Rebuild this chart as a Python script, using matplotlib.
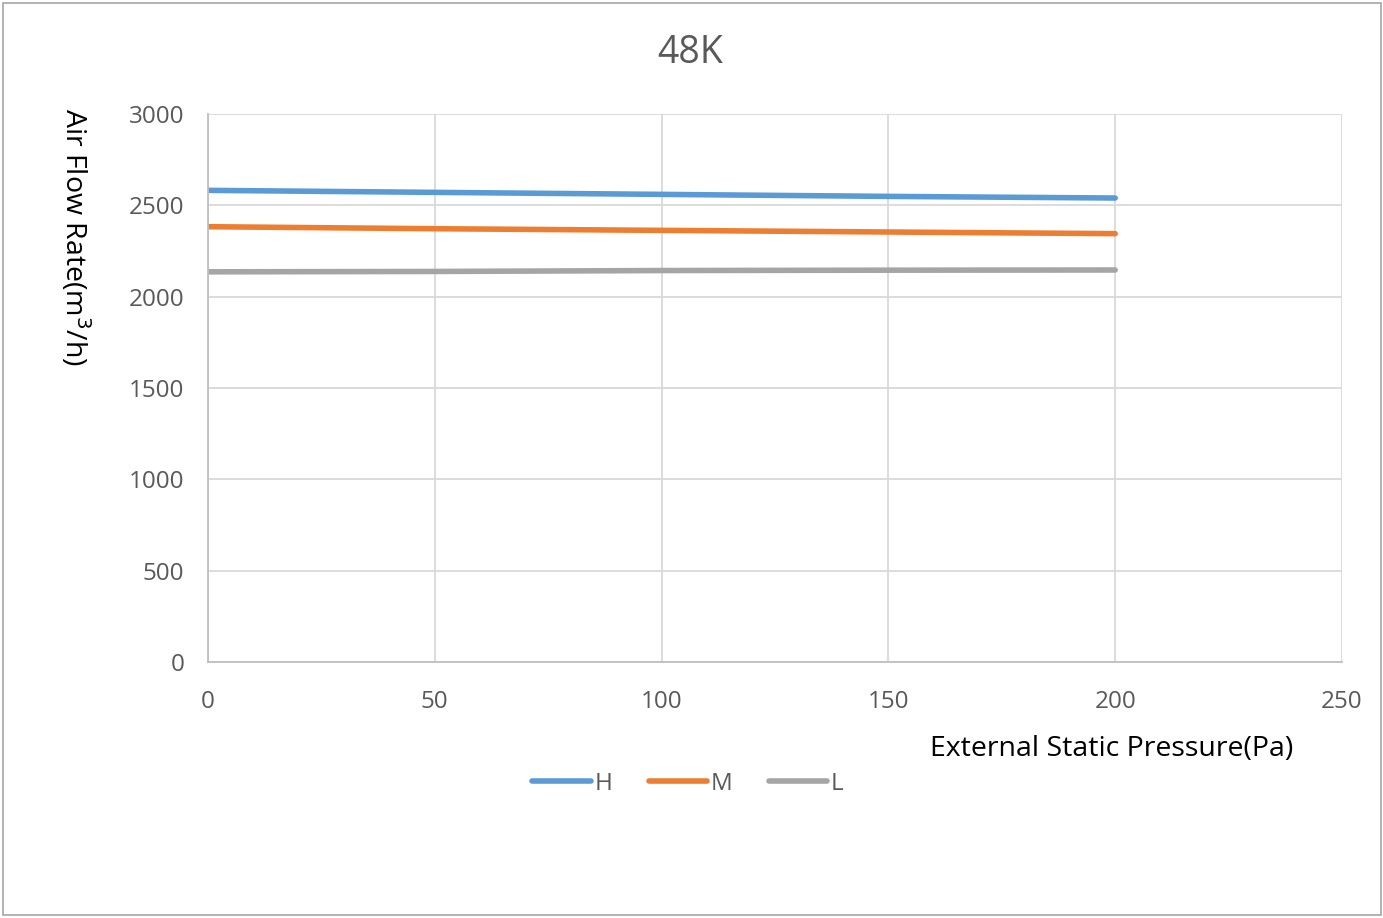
import matplotlib
matplotlib.use("Agg")
import matplotlib.pyplot as plt
from matplotlib.patches import Rectangle

plt.rcParams['font.family'] = ['Open Sans', 'DejaVu Sans']

pressure = [0, 50, 100, 150, 200]
flow_H = [2582, 2571, 2560, 2549, 2540]
flow_M = [2383, 2372, 2363, 2354, 2345]
flow_L = [2136, 2138, 2143, 2145, 2146]
series_names = ['H', 'M', 'L']
colors = ['#5b9bd5', '#ed7d31', '#a5a5a5']
x_ticks = [0, 50, 100, 150, 200, 250]
y_ticks = [0, 500, 1000, 1500, 2000, 2500, 3000]

W, H = 1383, 918
fig = plt.figure(figsize=(W / 100, H / 100), dpi=100)
fig.patches.append(Rectangle((3 / W, 3 / H), 1378 / W, 912 / H, transform=fig.transFigure,
                             fill=False, edgecolor='#a6a6a6', linewidth=1.2))

ax = fig.add_axes([208 / W, 1 - 662 / H, (1342 - 208) / W, (662 - 114) / H])
for vals, name, c in zip([flow_H, flow_M, flow_L], series_names, colors):
    ax.plot(pressure, vals, color=c, linewidth=4, label=name, solid_capstyle='round')

ax.set_xlim(0, 250)
ax.set_ylim(0, 3000)
ax.set_xticks(x_ticks)
ax.set_yticks(y_ticks)
ax.grid(True, color='#d9d9d9', linewidth=1.3)
ax.set_axisbelow(True)
for s in ['top', 'right']:
    ax.spines[s].set_visible(False)
for s in ['left', 'bottom']:
    ax.spines[s].set_color('#bfbfbf')
    ax.spines[s].set_linewidth(1.3)
ax.tick_params(length=0, labelsize=17.5, labelcolor='#595959')
ax.tick_params(axis='y', pad=17)
ax.tick_params(axis='x', pad=20)

fig.text(690 / W, 1 - 53 / H, '48K', ha='center', va='center', fontsize=27, color='#595959')
fig.text(1293 / W, 1 - 749 / H, 'External Static Pressure(Pa)', ha='right', va='center',
         fontsize=20.5, color='#000000')
fig.text(75 / W, 1 - 237 / H, 'Air Flow Rate(m$^3$/h)', ha='center', va='center',
         rotation=-90, fontsize=20.5, color='#000000')

leg = fig.legend(loc='center', bbox_to_anchor=(688 / W, 1 - 784 / H), ncol=3, frameon=False,
                 fontsize=17.5, handlelength=2.4, columnspacing=1.5, handletextpad=0.15)
for t in leg.get_texts():
    t.set_color('#595959')

fig.savefig('out.png', dpi=100)
